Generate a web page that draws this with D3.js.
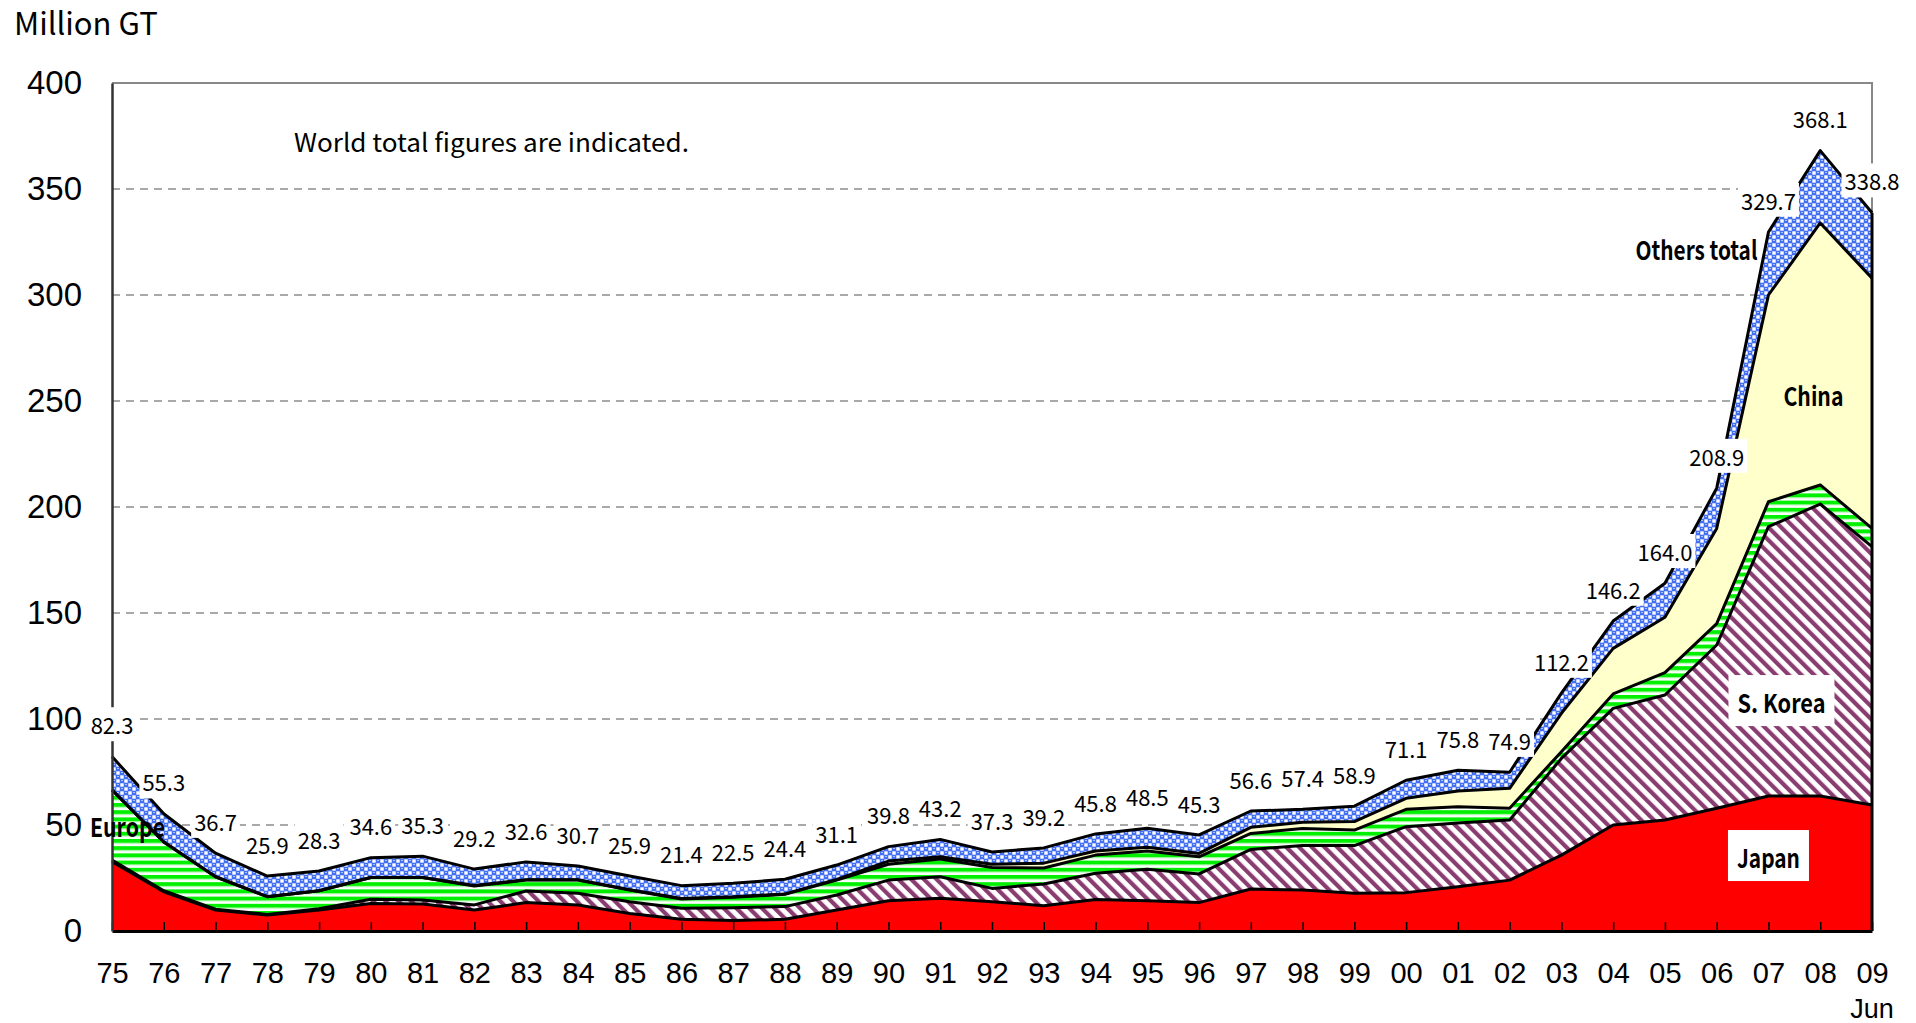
<!DOCTYPE html>
<html>
<head>
<meta charset="utf-8">
<script src="https://cdn.jsdelivr.net/npm/d3@7"></script>
<style>
  body { margin: 0; background: #fff; }
  svg { display: block; font-family: "Noto Sans CJK JP", "Noto Sans", sans-serif; }
</style>
</head>
<body>
<svg></svg>
<script>
// ---------------- DATA (million GT) ----------------
const years = ['75','76','77','78','79','80','81','82','83','84','85','86','87','88','89',
               '90','91','92','93','94','95','96','97','98','99','00','01','02','03','04',
               '05','06','07','08','09'];

const japan  = [32.7,18.5, 9.9, 7.5, 9.9,13.0,12.7, 9.9,13.4,12.3, 8.3, 5.5, 4.9, 5.5, 9.9,
                14.3,15.4,13.8,11.9,14.9,14.3,13.4,19.8,19.3,17.8,18.1,20.9,24.0,35.8,50.0,
                52.4,57.9,63.7,63.7,59.4];
const korea  = [ 0.8, 0.5, 0.4, 0.3, 0.6, 2.0, 1.9, 2.4, 5.5, 5.5, 5.5, 5.2, 6.1, 6.0, 7.1,
                 9.7,10.2, 6.3,10.3,12.3,14.8,13.5,18.7,21.0,22.5,31.1,30.1,28.4,45.6,55.0,
                58.9,77.0,127.0,137.7,121.9];
const europe = [33.0,23.0,15.3, 8.4, 8.5,10.2,10.6, 8.9, 5.1, 6.2, 5.5, 4.4, 4.9, 5.8, 7.0,
                 7.5, 8.4, 9.9, 7.5, 8.6, 8.6, 8.1, 7.5, 8.1, 7.3, 8.2, 7.6, 5.5, 3.2, 6.8,
                10.6,10.1,11.8, 9.0, 8.6];
const china  = [ 0.0, 0.0, 0.0, 0.0, 0.0, 0.0, 0.0, 0.3, 0.2, 0.2, 0.2, 0.2, 0.2, 0.2, 0.3,
                 1.5, 1.0, 1.5, 2.3, 1.9, 1.8, 1.6, 2.9, 2.9, 4.0, 5.2, 7.4, 9.4,18.1,21.5,
                26.1,44.9,97.5,123.6,118.0];
const others = [15.8,13.3,11.1, 9.7, 9.3, 9.4,10.1, 7.7, 8.4, 6.5, 6.4, 6.1, 6.4, 6.9, 6.8,
                 6.8, 8.2, 5.8, 7.2, 8.1, 9.0, 8.7, 7.7, 6.1, 7.3, 8.5, 9.8, 7.6, 9.5,12.9,
                16.0,19.0,29.7,34.1,30.9];

const worldTotal = [82.3,55.3,36.7,25.9,28.3,34.6,35.3,29.2,32.6,30.7,25.9,21.4,22.5,24.4,31.1,
                    39.8,43.2,37.3,39.2,45.8,48.5,45.3,56.6,57.4,58.9,71.1,75.8,74.9,112.2,146.2,
                    164.0,208.9,329.7,368.1,338.8];

const yTicks = [0, 50, 100, 150, 200, 250, 300, 350, 400];
const keys = ['japan', 'korea', 'europe', 'china', 'others'];
const fills = {japan: '#ff0000', korea: 'url(#hatch)', europe: 'url(#stripes)',
               china: '#ffffcc', others: 'url(#bubbles)'};

// ---------------- LAYOUT ----------------
const W = 1916, H = 1023;
const margin = {top: 83, right: 44, bottom: 92, left: 112};
const width = W - margin.left - margin.right,
      height = H - margin.top - margin.bottom;

const svg = d3.select('svg').attr('width', W).attr('height', H);

// patterns
const defs = svg.append('defs');
const bub = defs.append('pattern').attr('id', 'bubbles')
  .attr('patternUnits', 'userSpaceOnUse').attr('width', 8).attr('height', 8);
bub.append('rect').attr('width', 8).attr('height', 8).attr('fill', '#416ef3');
[[4, 0], [0, 4]].forEach(([cx, cy]) => {
  bub.append('rect').attr('x', cx + 0.3).attr('y', cy + 0.3).attr('width', 3.4).attr('height', 3.4)
    .attr('fill', '#fff');
});
[[0, 0], [4, 4]].forEach(([cx, cy]) => {
  bub.append('rect').attr('x', cx + 1.2).attr('y', cy + 1).attr('width', 1.6).attr('height', 0.9)
    .attr('fill', '#dfe6ff');
});

const str = defs.append('pattern').attr('id', 'stripes')
  .attr('patternUnits', 'userSpaceOnUse').attr('width', 8).attr('height', 7.2);
str.append('rect').attr('width', 8).attr('height', 7.2).attr('fill', '#fff');
str.append('rect').attr('y', 0).attr('width', 8).attr('height', 4).attr('fill', '#00f000');
str.append('rect').attr('y', 4).attr('width', 8).attr('height', 0.8).attr('fill', '#9cf79c');

const hat = defs.append('pattern').attr('id', 'hatch')
  .attr('patternUnits', 'userSpaceOnUse').attr('width', 9).attr('height', 9)
  .attr('patternTransform', 'rotate(-45)');
hat.append('rect').attr('width', 9).attr('height', 9).attr('fill', '#fff');
hat.append('rect').attr('width', 4.2).attr('height', 9).attr('fill', '#8a3d70');

const g = svg.append('g').attr('transform', `translate(${margin.left},${margin.top})`);

//--------------SCALES---------------------------------------
const x = d3.scalePoint().domain(years).range([0, width]);
const y = d3.scaleLinear().domain([0, 400]).range([height, 0]);

//--------------GRID / FRAME---------------------------------
g.append('g').selectAll('line')
  .data(yTicks.filter(d => d > 0 && d < 400))
  .join('line')
    .attr('x1', 0).attr('x2', width)
    .attr('y1', d => y(d)).attr('y2', d => y(d))
    .attr('stroke', '#555').attr('stroke-width', 1.2)
    .attr('stroke-dasharray', '8,6');

g.append('path')
  .attr('d', `M0,${y(400)}H${width}V${y(0)}`)
  .attr('fill', 'none').attr('stroke', '#888').attr('stroke-width', 2);

//--------------AREAS----------------------------------------
const rows = years.map((yr, i) => ({year: yr, japan: japan[i], korea: korea[i],
  europe: europe[i], china: china[i], others: others[i]}));
const series = d3.stack().keys(keys)(rows);

const area = d3.area()
  .x(d => x(d.data.year))
  .y0(d => y(d[0]))
  .y1(d => y(d[1]));

g.append('g').selectAll('path')
  .data(series)
  .join('path')
    .attr('fill', d => fills[d.key])
    .attr('d', area);

const topLine = d3.line()
  .x(d => x(d.data.year))
  .y(d => y(d[1]));

g.append('g').selectAll('path')
  .data(series)
  .join('path')
    .attr('fill', 'none')
    .attr('stroke', '#000')
    .attr('stroke-width', 3)
    .attr('stroke-linejoin', 'round')
    .attr('d', topLine);

// right edge of the stack
g.append('line')
  .attr('x1', x(years[years.length - 1])).attr('x2', x(years[years.length - 1]))
  .attr('y1', y(0)).attr('y2', y(worldTotal[worldTotal.length - 1]))
  .attr('stroke', '#000').attr('stroke-width', 3);

//--------------AXES-----------------------------------------
const xAxis = g.append('g')
  .attr('transform', `translate(0,${height})`)
  .call(d3.axisBottom(x).tickSizeInner(-9).tickSizeOuter(0).tickPadding(31));
xAxis.select('.domain').attr('stroke', '#000').attr('stroke-width', 3);
xAxis.selectAll('.tick line').attr('stroke', '#000').attr('stroke-width', 1.5);
xAxis.selectAll('.tick text').attr('font-size', 29).attr('fill', '#000');

xAxis.append('text')
  .attr('x', x('09')).attr('y', 87)
  .attr('text-anchor', 'middle')
  .attr('font-size', 27).attr('fill', '#000')
  .text('Jun');

const yAxis = g.append('g')
  .call(d3.axisLeft(y).tickValues(yTicks).tickSize(0).tickPadding(30));
yAxis.select('.domain').attr('stroke', '#333').attr('stroke-width', 2.5);
yAxis.selectAll('.tick text').attr('font-size', 33).attr('fill', '#000');

svg.append('text')
  .attr('x', 14).attr('y', 35)
  .attr('font-size', 31).attr('fill', '#000')
  .text('Million GT');

g.append('text')
  .attr('x', 182).attr('y', 69)
  .attr('font-size', 25).attr('fill', '#000')
  .attr('textLength', 395).attr('lengthAdjust', 'spacingAndGlyphs')
  .text('World total figures are indicated.');

//--------------TOTAL LABELS---------------------------------
const lab = g.append('g').selectAll('g')
  .data(worldTotal)
  .join('g')
    .attr('transform', (d, i) => `translate(${x(years[i])},${y(d) - 30})`);
lab.append('text')
  .attr('text-anchor', 'middle')
  .attr('dy', '0.35em')
  .attr('font-size', 22)
  .attr('fill', '#000')
  .text(d => d.toFixed(1));
lab.each(function() {
  const t = d3.select(this).select('text');
  const b = t.node().getBBox();
  d3.select(this).insert('rect', 'text')
    .attr('x', b.x - 3).attr('y', b.y - 1)
    .attr('width', b.width + 6).attr('height', b.height + 2)
    .attr('fill', '#fff');
});

//--------------SERIES LABELS--------------------------------
function seriesLabel(txt, px, py, anchor, len, boxed) {
  const gg = g.append('g');
  const t = gg.append('text')
    .attr('x', px).attr('y', py)
    .attr('text-anchor', anchor)
    .attr('font-size', 26).attr('font-weight', 'bold').attr('fill', '#000')
    .attr('textLength', len).attr('lengthAdjust', 'spacingAndGlyphs')
    .text(txt);
  if (boxed) {
    const b = t.node().getBBox();
    gg.insert('rect', 'text')
      .attr('x', b.x - 9).attr('y', b.y - 8)
      .attr('width', b.width + 18).attr('height', b.height + 14)
      .attr('fill', '#fff');
  }
}
seriesLabel('Europe', x('75') - 22, y(44.5), 'start', 75, false);
seriesLabel('Others total', x('07') - 11, y(316.5), 'end', 122, false);
seriesLabel('China', x('07') + 45, y(247.5), 'middle', 60, false);
seriesLabel('S. Korea', x('07') + 13, y(102.8), 'middle', 88, true);
seriesLabel('Japan', x('07'), y(29.7), 'middle', 63, true);
</script>
</body>
</html>
